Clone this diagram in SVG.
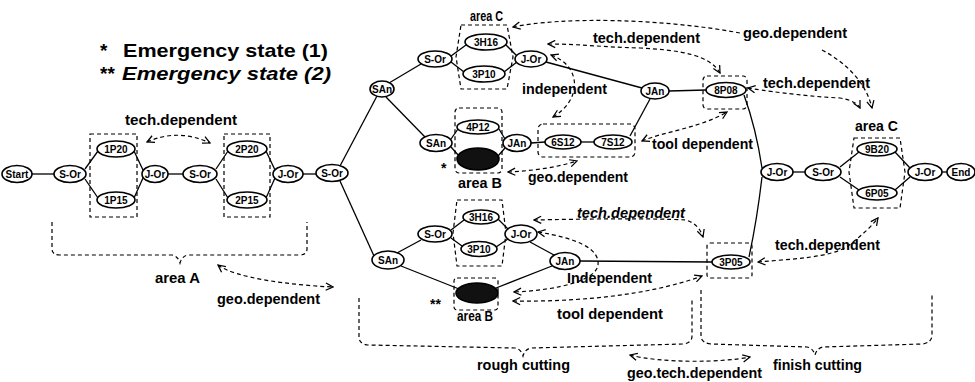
<svg xmlns="http://www.w3.org/2000/svg" width="975" height="382" viewBox="0 0 975 382">
<style>
.n{fill:#fff;stroke:#000;stroke-width:1.6}
.dk{fill:#111;stroke:#000;stroke-width:1.6}
.t{font-family:"Liberation Sans",Arial,sans-serif;font-weight:bold;font-size:10px;text-anchor:middle;fill:#000}
.box{fill:none;stroke:#000;stroke-width:1.2;stroke-dasharray:4 3}
.e{fill:none;stroke:#000;stroke-width:1.3}
.d{fill:none;stroke:#000;stroke-width:1.2;stroke-dasharray:4 3}
.a2{marker-start:url(#ah);marker-end:url(#ah)}
.a1{marker-end:url(#ah)}
.lab{font-family:"Liberation Sans",Arial,sans-serif;font-weight:bold;font-size:14px;fill:#000}
.big{font-family:"Liberation Sans",Arial,sans-serif;font-weight:bold;font-size:19px;fill:#000}
</style>
<defs>
<marker id="ah" viewBox="0 0 10 10" refX="9" refY="5" markerWidth="9" markerHeight="9" markerUnits="userSpaceOnUse" orient="auto-start-reverse">
<path d="M1,1 L9,5 L1,9" fill="none" stroke="#000" stroke-width="1.4"/>
</marker>
</defs>
<rect width="975" height="382" fill="#fff"/>

<g id="legend">
<text class="big" x="100" y="57">*</text>
<text class="big" x="123" y="57" textLength="205" lengthAdjust="spacingAndGlyphs">Emergency state (1)</text>
<text class="big" x="100" y="80">**</text>
<text class="big" x="122" y="80" font-style="italic" textLength="209" lengthAdjust="spacingAndGlyphs">Emergency state (2)</text>
</g>

<g id="areas">
<rect class="box" x="90" y="134" width="47" height="83"/>
<rect class="box" x="224" y="134" width="46" height="83"/>
<path class="box" d="M461,25 L507,25 L513,57 L507,89 L461,89 L456,57 Z"/>
<rect class="box" x="455" y="108" width="47" height="65" rx="4"/>
<rect class="box" x="538" y="124" width="97" height="33" rx="5"/>
<rect class="box" x="703" y="76" width="44" height="33" rx="4"/>
<path class="box" d="M457,200 L502,200 L506,233 L502,266 L457,266 L453,233 Z"/>
<rect class="box" x="454" y="278" width="44" height="32" rx="3"/>
<rect class="box" x="707" y="243" width="45" height="35" rx="3"/>
<path class="box" d="M854,138 L900,138 L905,172 L900,208 L854,208 L849,172 Z"/>
<path class="box" d="M52,222 L52,249 Q52,255 60,255 L172,255 Q178,256 180,263 Q182,256 188,255 L299,255 Q307,255 307,249 L307,222"/>
<path class="box" d="M359,298 L359,337 Q359,344 368,345 L515,348 Q521,349 523,356 Q525,349 531,348 L683,344 Q692,343 692,336 L692,300"/>
<path class="box" d="M701,290 L701,337 Q702,343 711,344 L807,347 Q813,348 815,355 Q817,348 823,347 L922,344 Q931,343 932,336 L932,293"/>
</g>

<g id="connectors">
<path class="e" d="M32,174 L54,174"/>
<path class="e" d="M85,169 L98,151"/>
<path class="e" d="M85,179 L98,198"/>
<path class="e" d="M134,151 L143,170"/>
<path class="e" d="M134,198 L143,178"/>
<path class="e" d="M168,174 L183,174"/>
<path class="e" d="M216,169 L228,151"/>
<path class="e" d="M216,179 L228,198"/>
<path class="e" d="M266,151 L275,170"/>
<path class="e" d="M266,198 L275,178"/>
<path class="e" d="M303,174 L316,174"/>
<path class="e" d="M340,166 L377,96"/>
<path class="e" d="M340,181 L374,256"/>
<path class="e" d="M389,83 L421,64"/>
<path class="e" d="M386,97 L425,137"/>
<path class="e" d="M451,56 L466,45"/>
<path class="e" d="M451,62 L464,72"/>
<path class="e" d="M506,45 L517,56"/>
<path class="e" d="M504,72 L517,62"/>
<path class="e" d="M451,139 L458,129"/>
<path class="e" d="M451,147 L459,156"/>
<path class="e" d="M499,129 L505,139"/>
<path class="e" d="M498,156 L505,148"/>
<path class="e" d="M531,143 L545,142"/>
<path class="e" d="M581,142 L594,142"/>
<path class="e" d="M630,136 L650,99"/>
<path class="e" d="M546,62 L642,88"/>
<path class="e" d="M669,91 L706,90"/>
<path class="e" d="M744,95 Q756,128 762,168"/>
<path class="e" d="M749,257 Q757,220 762,177"/>
<path class="e" d="M793,172 L805,172"/>
<path class="e" d="M840,167 L859,152"/>
<path class="e" d="M840,177 L859,190"/>
<path class="e" d="M895,152 L910,168"/>
<path class="e" d="M895,190 L910,177"/>
<path class="e" d="M942,172 L947,172"/>
<path class="e" d="M397,253 L421,240"/>
<path class="e" d="M401,266 L459,289"/>
<path class="e" d="M451,230 L464,220"/>
<path class="e" d="M451,238 L462,246"/>
<path class="e" d="M498,219 L508,229"/>
<path class="e" d="M496,247 L508,239"/>
<path class="e" d="M530,242 L554,255"/>
<path class="e" d="M496,288 L552,266"/>
<path class="e" d="M580,261 L712,262"/>

<path class="d a2" d="M147,142 Q178,128 210,143"/>
<path class="d a2" d="M218,265 C235,278 290,285 333,287"/>
<path class="d" d="M513,27 C560,17 660,18 740,33" marker-start="url(#ah)"/>
<path class="d a1" d="M822,50 C845,62 866,82 872,108"/>
<path class="d a2" d="M548,44 C580,44 600,47 640,48 C680,50 710,55 720,73"/>
<path class="d a2" d="M551,55 C582,66 582,100 553,117"/>
<path class="d a2" d="M748,88 C760,90 800,96 840,98 C852,100 858,104 860,108"/>
<path class="d a2" d="M642,141 C662,132 700,128 727,112"/>
<path class="d a2" d="M508,172 C530,171 555,168 577,161"/>
<path class="d a2" d="M534,220 C580,219 650,218 686,220 C695,223 700,228 703,237"/>
<path class="d a2" d="M538,232 C575,238 600,248 598,265 C596,280 560,290 514,292"/>
<path class="d a2" d="M513,301 C580,302 650,295 702,276"/>
<path class="d a2" d="M758,262 C790,259 830,258 848,246 C860,237 872,226 878,218"/>
<path class="d a2" d="M630,355 C660,363 720,363 750,357"/>
</g>

<g id="n-start"><ellipse class="n" cx="17" cy="174" rx="15" ry="8.5"/><text class="t" x="17" y="177.5" font-size="9">Start</text></g>
<g id="n-sor1"><ellipse class="n" cx="70" cy="174" rx="16" ry="8.5"/><text class="t" x="70" y="177.5">S-Or</text></g>
<g id="n-1p20"><ellipse class="n" cx="116" cy="149" rx="19" ry="8"/><text class="t" x="116" y="152.5">1P20</text></g>
<g id="n-1p15"><ellipse class="n" cx="116" cy="200" rx="19" ry="8"/><text class="t" x="116" y="203.5">1P15</text></g>
<g id="n-jor1"><ellipse class="n" cx="155" cy="174" rx="13" ry="8.5"/><text class="t" x="155" y="177.5">J-Or</text></g>
<g id="n-sor2"><ellipse class="n" cx="200" cy="174" rx="17" ry="8.5"/><text class="t" x="200" y="177.5">S-Or</text></g>
<g id="n-2p20"><ellipse class="n" cx="247" cy="149" rx="20" ry="8"/><text class="t" x="247" y="152.5">2P20</text></g>
<g id="n-2p15"><ellipse class="n" cx="247" cy="200" rx="20" ry="8"/><text class="t" x="247" y="203.5">2P15</text></g>
<g id="n-jor2"><ellipse class="n" cx="288" cy="174" rx="15" ry="8.5"/><text class="t" x="288" y="177.5">J-Or</text></g>
<g id="n-sor3"><ellipse class="n" cx="332" cy="173" rx="16" ry="8.5"/><text class="t" x="332" y="176.5">S-Or</text></g>
<g id="n-san1"><ellipse class="n" cx="382" cy="89" rx="12" ry="8"/><text class="t" x="382" y="92.5" font-size="9">SAn</text></g>
<g id="n-sor4"><ellipse class="n" cx="435" cy="59" rx="17" ry="8"/><text class="t" x="435" y="62.5">S-Or</text></g>
<g id="n-3h16a"><ellipse class="n" cx="486" cy="42" rx="21" ry="8"/><text class="t" x="486" y="45.5">3H16</text></g>
<g id="n-3p10a"><ellipse class="n" cx="484" cy="74" rx="21" ry="8"/><text class="t" x="484" y="77.5">3P10</text></g>
<g id="n-jor4"><ellipse class="n" cx="531" cy="59" rx="16" ry="8"/><text class="t" x="531" y="62.5">J-Or</text></g>
<g id="n-san2"><ellipse class="n" cx="436" cy="143" rx="16" ry="8.5"/><text class="t" x="436" y="146.5">SAn</text></g>
<g id="n-4p12"><ellipse class="n" cx="478" cy="127" rx="21" ry="7"/><text class="t" x="478" y="130.5">4P12</text></g>
<g id="n-dark1"><ellipse class="dk" cx="478" cy="159" rx="21" ry="11"/></g>
<g id="n-jan1"><ellipse class="n" cx="517" cy="143" rx="14" ry="8.5"/><text class="t" x="517" y="146.5">JAn</text></g>
<g id="n-6s12"><ellipse class="n" cx="563" cy="142" rx="18" ry="7"/><text class="t" x="563" y="145.5">6S12</text></g>
<g id="n-7s12"><ellipse class="n" cx="613" cy="142" rx="19" ry="7"/><text class="t" x="613" y="145.5">7S12</text></g>
<g id="n-jan2"><ellipse class="n" cx="655" cy="91" rx="14" ry="8"/><text class="t" x="655" y="94.5">JAn</text></g>
<g id="n-8p08"><ellipse class="n" cx="726" cy="90" rx="20" ry="7.5"/><text class="t" x="726" y="93.5">8P08</text></g>
<g id="n-san3"><ellipse class="n" cx="388" cy="260" rx="16" ry="9"/><text class="t" x="388" y="263.5">SAn</text></g>
<g id="n-sor5"><ellipse class="n" cx="435" cy="234" rx="17" ry="8"/><text class="t" x="435" y="237.5">S-Or</text></g>
<g id="n-3h16b"><ellipse class="n" cx="481" cy="217" rx="18" ry="7"/><text class="t" x="481" y="220.5">3H16</text></g>
<g id="n-3p10b"><ellipse class="n" cx="479" cy="249" rx="18" ry="7.5"/><text class="t" x="479" y="252.5">3P10</text></g>
<g id="n-jor5"><ellipse class="n" cx="521" cy="234" rx="16" ry="9"/><text class="t" x="521" y="237.5">J-Or</text></g>
<g id="n-dark2"><ellipse class="dk" cx="477" cy="293" rx="21" ry="10"/></g>
<g id="n-jan3"><ellipse class="n" cx="565" cy="261" rx="15" ry="8.5"/><text class="t" x="565" y="264.5">JAn</text></g>
<g id="n-3p05"><ellipse class="n" cx="731" cy="262" rx="19" ry="7"/><text class="t" x="731" y="265.5">3P05</text></g>
<g id="n-jor6"><ellipse class="n" cx="777" cy="172" rx="16" ry="8.5"/><text class="t" x="777" y="175.5">J-Or</text></g>
<g id="n-sor6"><ellipse class="n" cx="823" cy="172" rx="18" ry="8.5"/><text class="t" x="823" y="175.5">S-Or</text></g>
<g id="n-9b20"><ellipse class="n" cx="877" cy="149" rx="20" ry="7"/><text class="t" x="877" y="152.5">9B20</text></g>
<g id="n-6p05"><ellipse class="n" cx="877" cy="193" rx="20" ry="7"/><text class="t" x="877" y="196.5">6P05</text></g>
<g id="n-jor7"><ellipse class="n" cx="925" cy="172" rx="17" ry="8.5"/><text class="t" x="925" y="175.5">J-Or</text></g>
<g id="n-end"><ellipse class="n" cx="961" cy="172" rx="14" ry="8.5"/><text class="t" x="961" y="175.5" font-size="9.5">End</text></g>

<g id="labels">
<text class="lab" x="125" y="125" textLength="112" lengthAdjust="spacingAndGlyphs">tech.dependent</text>
<text class="lab" x="155" y="283" textLength="45" lengthAdjust="spacingAndGlyphs">area A</text>
<text class="lab" x="217" y="304" textLength="103" lengthAdjust="spacingAndGlyphs">geo.dependent</text>
<text class="lab" x="470" y="21" textLength="33" lengthAdjust="spacingAndGlyphs">area C</text>
<text class="lab" x="522" y="94" font-weight="normal" textLength="85" lengthAdjust="spacingAndGlyphs">independent</text>
<text class="lab" x="593" y="43" textLength="107" lengthAdjust="spacingAndGlyphs">tech.dependent</text>
<text class="lab" x="743" y="38" textLength="104" lengthAdjust="spacingAndGlyphs">geo.dependent</text>
<text class="lab" x="763" y="88" textLength="107" lengthAdjust="spacingAndGlyphs">tech.dependent</text>
<text class="lab" x="855" y="131" textLength="43" lengthAdjust="spacingAndGlyphs">area C</text>
<text class="lab" x="652" y="149" textLength="101" lengthAdjust="spacingAndGlyphs">tool dependent</text>
<text class="lab" x="441" y="173" font-size="16">*</text>
<text class="lab" x="458" y="188" textLength="44" lengthAdjust="spacingAndGlyphs">area B</text>
<text class="lab" x="528" y="182" textLength="100" lengthAdjust="spacingAndGlyphs">geo.dependent</text>
<text class="lab" x="577" y="218" font-style="italic" textLength="108" lengthAdjust="spacingAndGlyphs">tech.dependent</text>
<text class="lab" x="567" y="283" textLength="85" lengthAdjust="spacingAndGlyphs">Independent</text>
<text class="lab" x="430" y="309" font-size="16">**</text>
<text class="lab" x="457" y="321" textLength="36" lengthAdjust="spacingAndGlyphs">area B</text>
<text class="lab" x="557" y="319" textLength="106" lengthAdjust="spacingAndGlyphs">tool dependent</text>
<text class="lab" x="775" y="250" textLength="105" lengthAdjust="spacingAndGlyphs">tech.dependent</text>
<text class="lab" x="477" y="370" textLength="93" lengthAdjust="spacingAndGlyphs">rough cutting</text>
<text class="lab" x="627" y="378" textLength="135" lengthAdjust="spacingAndGlyphs">geo.tech.dependent</text>
<text class="lab" x="773" y="370" textLength="89" lengthAdjust="spacingAndGlyphs">finish cutting</text>
</g>
</svg>
